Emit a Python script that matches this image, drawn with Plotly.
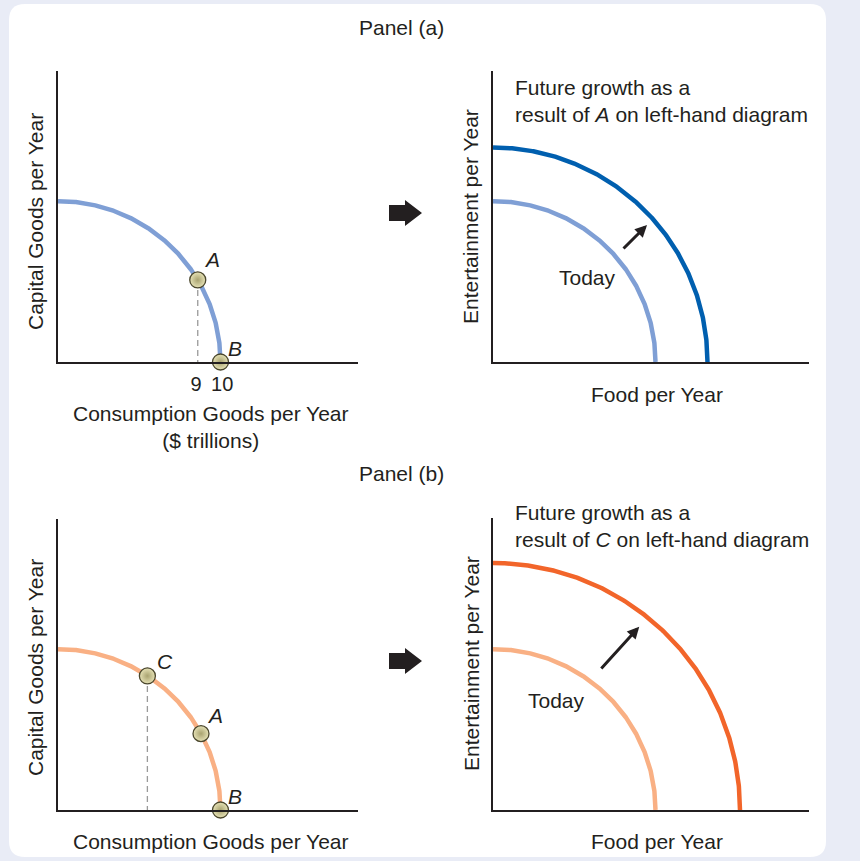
import numpy as np
import plotly.graph_objects as go

W, H = 860, 861
PX_PER_UNIT = 16.25

# ---------------- data ----------------
panel_titles = ["Panel (a)", "Panel (b)"]

# Panel (a), left: production possibilities today
ppf_a_intercepts = [10.0, 9.9]          # consumption, capital
points_a_names = ["A", "B"]
points_a_x = [8.6, 10.0]
points_a_y = [5.05, 0.0]
tick_a_vals = [8.5, 10.1]
tick_a_text = ["9", "10"]

# Panel (a), right
today_a_intercepts = [10.0, 9.9]
future_a_intercepts = [13.2, 13.2]
growth_arrow_a_x = [7.94, 9.48]          # tail, head
growth_arrow_a_y = [6.89, 8.43]

# Panel (b), left
ppf_b_intercepts = [10.0, 9.9]
points_b_names = ["C", "A", "B"]
points_b_x = [5.5, 8.8, 10.0]
points_b_y = [8.25, 4.7, 0.0]

# Panel (b), right
today_b_intercepts = [10.0, 9.9]
future_b_intercepts = [15.2, 15.2]
growth_arrow_b_x = [6.58, 9.0]
growth_arrow_b_y = [8.62, 11.28]

# ---------------- styling ----------------
INK = "#231f20"
FONT = "Liberation Sans, Arial, Helvetica, sans-serif"
FS = 21
LIGHT_BLUE = "#7f9fd5"
DARK_BLUE = "#005faf"
LIGHT_ORANGE = "#f9b084"
ORANGE = "#f2652a"
BG = "#e9ecf6"

# plot areas in pixels (x0, x1, ytop, ybottom)
boxes = {
    "": (58, 358, 71, 362),
    "2": (493, 809, 71, 362),
    "3": (58, 358, 519, 810),
    "4": (493, 809, 518, 810),
}


def px(x, y):
    return x / W, 1 - y / H


def arc(intercepts, n=300):
    t = np.linspace(0, np.pi / 2, n)
    return intercepts[0] * np.cos(t), intercepts[1] * np.sin(t)


fig = go.Figure()


def add_curve(ax, intercepts, color, width=4.5):
    x, y = arc(intercepts)
    fig.add_trace(go.Scatter(x=x, y=y, mode="lines", line=dict(color=color, width=width),
                             xaxis="x" + ax, yaxis="y" + ax, hoverinfo="skip", showlegend=False))


def add_points(ax, xs, ys):
    fig.add_trace(go.Scatter(
        x=xs, y=ys, mode="markers", xaxis="x" + ax, yaxis="y" + ax,
        marker=dict(size=16, color="#e6e2b6",
                    gradient=dict(type="radial", color="#a9a370"),
                    line=dict(color="#4a462c", width=1.3)),
        cliponaxis=False, showlegend=False, hoverinfo="skip"))


def add_drop(ax, x, y):
    fig.add_trace(go.Scatter(x=[x, x], y=[y, 0], mode="lines", xaxis="x" + ax, yaxis="y" + ax,
                             line=dict(color="#9a9a9a", width=1.3, dash="6px,4px"),
                             showlegend=False, hoverinfo="skip"))


# Panel (a) left
add_curve("", ppf_a_intercepts, LIGHT_BLUE)
add_drop("", points_a_x[0], points_a_y[0])
add_points("", points_a_x, points_a_y)
# Panel (a) right
add_curve("2", today_a_intercepts, LIGHT_BLUE)
add_curve("2", future_a_intercepts, DARK_BLUE)
# Panel (b) left
add_curve("3", ppf_b_intercepts, LIGHT_ORANGE)
add_drop("3", points_b_x[0], points_b_y[0])
add_points("3", points_b_x, points_b_y)
# Panel (b) right
add_curve("4", today_b_intercepts, LIGHT_ORANGE)
add_curve("4", future_b_intercepts, ORANGE)

layout = dict(
    width=W, height=H, margin=dict(l=0, r=0, t=0, b=0),
    paper_bgcolor=BG, plot_bgcolor="rgba(0,0,0,0)", showlegend=False,
    font=dict(family=FONT, color=INK, size=FS),
)
for key, (x0, x1, yt, yb) in boxes.items():
    ax_common = dict(showline=True, linecolor=INK, linewidth=2.2, showgrid=False,
                     zeroline=False, ticks="", fixedrange=True)
    layout["xaxis" + key] = dict(ax_common, domain=[x0 / W, x1 / W],
                                 range=[0, (x1 - x0) / PX_PER_UNIT], anchor="y" + key,
                                 showticklabels=False)
    layout["yaxis" + key] = dict(ax_common, domain=[1 - yb / H, 1 - yt / H],
                                 range=[0, (yb - yt) / PX_PER_UNIT], anchor="x" + key,
                                 showticklabels=False)
layout["xaxis"].update(showticklabels=True, tickvals=tick_a_vals, ticktext=tick_a_text,
                       tickfont=dict(size=20, color=INK), ticklabelstandoff=3)
fig.update_layout(**layout)


# white rounded card
def rounded_rect(x0, y0, x1, y1, r):
    def P(x, y):
        a, b = px(x, y)
        return f"{a:.5f},{b:.5f}"
    return (f"M {P(x0 + r, y0)} L {P(x1 - r, y0)} Q {P(x1, y0)} {P(x1, y0 + r)} "
            f"L {P(x1, y1 - r)} Q {P(x1, y1)} {P(x1 - r, y1)} L {P(x0 + r, y1)} "
            f"Q {P(x0, y1)} {P(x0, y1 - r)} L {P(x0, y0 + r)} Q {P(x0, y0)} {P(x0 + r, y0)} Z")


fig.add_shape(type="path", xref="paper", yref="paper", path=rounded_rect(9, 4, 826, 857, 16),
              fillcolor="white", line=dict(width=0), layer="below")


# block arrows between panels
def block_arrow(dy):
    pts = [(389, 205), (405, 205), (405, 200), (422, 213), (405, 226), (405, 221), (389, 221)]
    s = []
    for i, (x, y) in enumerate(pts):
        a, b = px(x, y + dy)
        s.append(("M " if i == 0 else "L ") + f"{a:.5f},{b:.5f}")
    return " ".join(s) + " Z"


for dy in (0, 448):
    fig.add_shape(type="path", xref="paper", yref="paper", path=block_arrow(dy),
                  fillcolor=INK, line=dict(width=0))


def note(text, x, y, size=FS, angle=0, xanchor="center", align="center"):
    a, b = px(x, y)
    fig.add_annotation(text=text, x=a, y=b, xref="paper", yref="paper", showarrow=False,
                       xanchor=xanchor, yanchor="middle", textangle=angle, align=align,
                       font=dict(size=size, color=INK, family=FONT))


# titles
note(panel_titles[0], 401, 28)
note(panel_titles[1], 401, 473)

# Panel (a) left
note("Consumption Goods per Year<br>($ trillions)", 211, 427)
note("Capital Goods per Year", 35, 222, angle=-90)
for name, x, y in zip(points_a_names, points_a_x, points_a_y):
    fig.add_annotation(text=f"<i>{name}</i>", x=x, y=y, xref="x", yref="y", showarrow=False,
                       xshift=14, yshift=20 if name == "A" else 14,
                       font=dict(size=FS, color=INK, family=FONT))

# Panel (a) right
note("Future growth as a<br>result of <i>A</i> on left-hand diagram", 513, 101,
     xanchor="left", align="left")
note("Today", 587, 277)
note("Food per Year", 657, 394)
note("Entertainment per Year", 471, 217, angle=-90)
fig.add_annotation(x=growth_arrow_a_x[1], y=growth_arrow_a_y[1], ax=growth_arrow_a_x[0],
                   ay=growth_arrow_a_y[0], xref="x2", yref="y2", axref="x2", ayref="y2",
                   text="", showarrow=True, arrowhead=2, arrowsize=0.8, arrowwidth=3,
                   arrowcolor=INK)

# Panel (b) left
note("Consumption Goods per Year", 211, 841)
note("Capital Goods per Year", 35, 668, angle=-90)
for name, x, y in zip(points_b_names, points_b_x, points_b_y):
    fig.add_annotation(text=f"<i>{name}</i>", x=x, y=y, xref="x3", yref="y3", showarrow=False,
                       xshift=18 if name == "C" else 14, yshift=14 if name != "A" else 18,
                       font=dict(size=FS, color=INK, family=FONT))

# Panel (b) right
note("Future growth as a<br>result of <i>C</i> on left-hand diagram", 513, 526,
     xanchor="left", align="left")
note("Today", 556, 700)
note("Food per Year", 657, 841)
note("Entertainment per Year", 471, 664, angle=-90)
fig.add_annotation(x=growth_arrow_b_x[1], y=growth_arrow_b_y[1], ax=growth_arrow_b_x[0],
                   ay=growth_arrow_b_y[0], xref="x4", yref="y4", axref="x4", ayref="y4",
                   text="", showarrow=True, arrowhead=2, arrowsize=0.8, arrowwidth=3,
                   arrowcolor=INK)

fig.write_html("out.html", config={"displayModeBar": False},
               post_script="document.body.style.margin='0';")
